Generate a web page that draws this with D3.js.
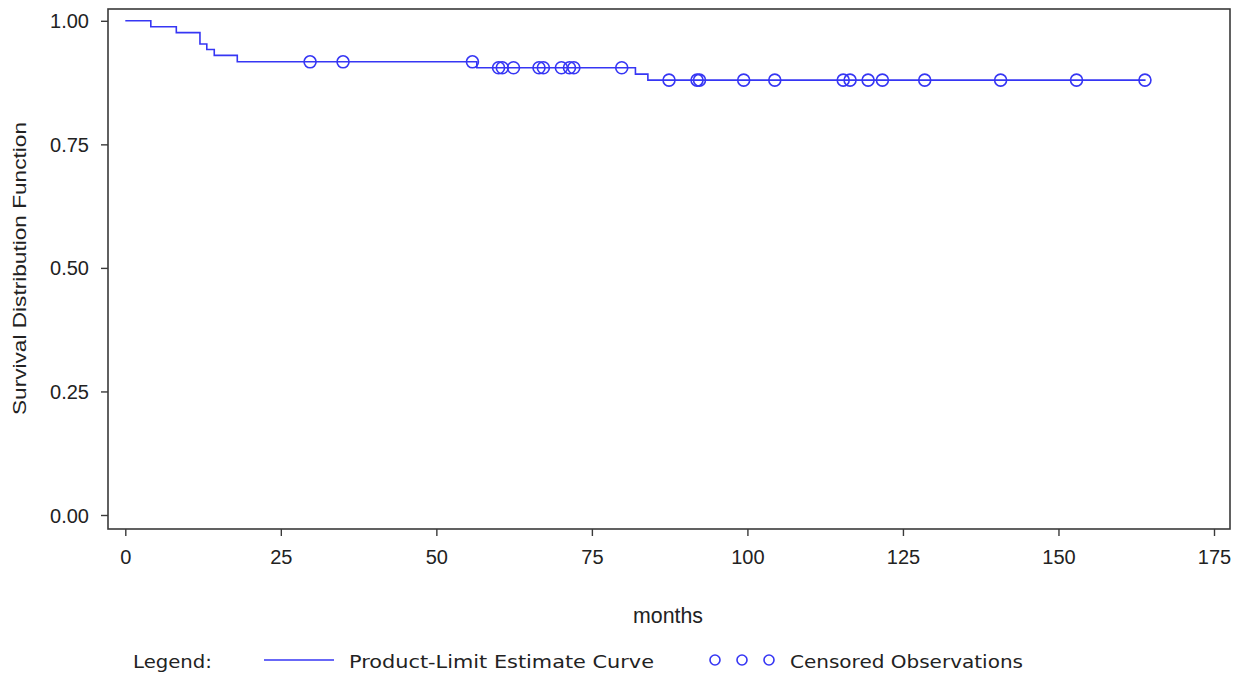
<!DOCTYPE html>
<html>
<head>
<meta charset="utf-8">
<script src="https://cdn.jsdelivr.net/npm/d3@7/dist/d3.min.js"></script>
<style>
  html, body { margin: 0; padding: 0; background: #fff; }
  svg { display: block; }
  .axis text { font-family: 'Liberation Sans', Arial, sans-serif; fill: #222; }
</style>
</head>
<body>
<svg id="chart"></svg>
<script>
// product-limit estimate: step times and survival levels after each step
const stepTimes = [0, 4.1, 8.2, 12.0, 13.1, 14.3, 18.0, 56.5, 82.0, 84.0]
const stepSurvival = [1.0, 0.988, 0.976, 0.953, 0.942, 0.930, 0.917, 0.905, 0.892, 0.880]
const lastTime = 164
// censored observation times (months)
const censoredTimes = [29.7, 35.0, 55.8, 60.0, 60.6, 62.4, 66.5, 67.2, 70.1, 71.4, 72.1, 79.8,
  87.4, 91.9, 92.3, 99.4, 104.4, 115.4, 116.5, 119.4, 121.7, 128.5, 140.7, 152.9, 163.9]
const xTicks = [0, 25, 50, 75, 100, 125, 150, 175]
const yTicks = [0, 0.25, 0.5, 0.75, 1]

const width = 1241
const height = 677
const frame = { left: 108, right: 1230, top: 9, bottom: 529 }
const blue = '#3636f4'

const svg = d3.select('#chart').attr('width', width).attr('height', height)

const x = d3.scaleLinear().domain([0, 175]).range([125.3, 1214])
const y = d3.scaleLinear().domain([0, 1]).range([515, 20.8])

// survival level at time t
function survivalAt (t) {
  let s = stepSurvival[0]
  stepTimes.forEach((st, i) => { if (st <= t) s = stepSurvival[i] })
  return s
}

// frame
svg.append('rect')
  .attr('x', frame.left).attr('y', frame.top)
  .attr('width', frame.right - frame.left)
  .attr('height', frame.bottom - frame.top)
  .attr('fill', 'none').attr('stroke', '#3a3a3a').attr('stroke-width', 1.6)

// y axis
const yAxis = d3.axisLeft(y).tickValues(yTicks).tickFormat(d3.format('.2f'))
  .tickSizeOuter(0).tickSizeInner(7).tickPadding(12)
const yG = svg.append('g').attr('class', 'axis')
  .attr('transform', `translate(${frame.left},0)`)
  .call(yAxis)
yG.select('.domain').remove()
yG.selectAll('line').attr('stroke', '#3a3a3a').attr('stroke-width', 1.4)
yG.selectAll('text').attr('font-size', 20).attr('dy', '0.35em')

// x axis
const xAxis = d3.axisBottom(x).tickValues(xTicks)
  .tickSizeOuter(0).tickSizeInner(7).tickPadding(10)
const xG = svg.append('g').attr('class', 'axis')
  .attr('transform', `translate(0,${frame.bottom})`)
  .call(xAxis)
xG.select('.domain').remove()
xG.selectAll('line').attr('stroke', '#3a3a3a').attr('stroke-width', 1.4)
xG.selectAll('text').attr('font-size', 20).attr('dy', '0.9em')

// axis titles
svg.append('text')
  .attr('class', 'axis')
  .attr('transform', 'translate(26,268.5) rotate(-90)')
  .attr('text-anchor', 'middle')
  .attr('font-family', "'Liberation Sans', Arial, sans-serif")
  .attr('font-size', 19)
  .attr('fill', '#222')
  .attr('textLength', 293).attr('lengthAdjust', 'spacingAndGlyphs')
  .text('Survival Distribution Function')

svg.append('text')
  .attr('x', 668).attr('y', 623)
  .attr('text-anchor', 'middle')
  .attr('font-family', "'Liberation Sans', Arial, sans-serif")
  .attr('font-size', 22)
  .attr('fill', '#222')
  .attr('textLength', 70).attr('lengthAdjust', 'spacingAndGlyphs')
  .text('months')

// step curve
const curvePts = stepTimes.map((t, i) => [t, stepSurvival[i]])
curvePts.push([lastTime, stepSurvival[stepSurvival.length - 1]])
const line = d3.line()
  .x(d => x(d[0]))
  .y(d => y(d[1]))
  .curve(d3.curveStepAfter)
svg.append('path')
  .attr('d', line(curvePts))
  .attr('fill', 'none')
  .attr('stroke', blue)
  .attr('stroke-width', 1.6)

// censored marks
svg.append('g').selectAll('circle')
  .data(censoredTimes)
  .join('circle')
  .attr('cx', d => x(d))
  .attr('cy', d => y(survivalAt(d)))
  .attr('r', 6)
  .attr('fill', 'none')
  .attr('stroke', blue)
  .attr('stroke-width', 1.6)

// legend
const legend = svg.append('g')
  .attr('font-family', "'DejaVu Sans', sans-serif")
  .attr('font-size', 17)
  .attr('fill', '#222')
legend.append('text').attr('x', 133).attr('y', 668)
  .attr('textLength', 79).attr('lengthAdjust', 'spacingAndGlyphs')
  .text('Legend:')
legend.append('line')
  .attr('x1', 264).attr('x2', 334).attr('y1', 660).attr('y2', 660)
  .attr('stroke', blue).attr('stroke-width', 1.6)
legend.append('text').attr('x', 349).attr('y', 668)
  .attr('textLength', 305).attr('lengthAdjust', 'spacingAndGlyphs')
  .text('Product-Limit Estimate Curve')
legend.selectAll('circle.leg')
  .data([715, 742, 769])
  .join('circle')
  .attr('class', 'leg')
  .attr('cx', d => d).attr('cy', 660).attr('r', 5)
  .attr('fill', 'none').attr('stroke', blue).attr('stroke-width', 1.6)
legend.append('text').attr('x', 790).attr('y', 668)
  .attr('textLength', 233).attr('lengthAdjust', 'spacingAndGlyphs')
  .text('Censored Observations')
</script>
</body>
</html>
